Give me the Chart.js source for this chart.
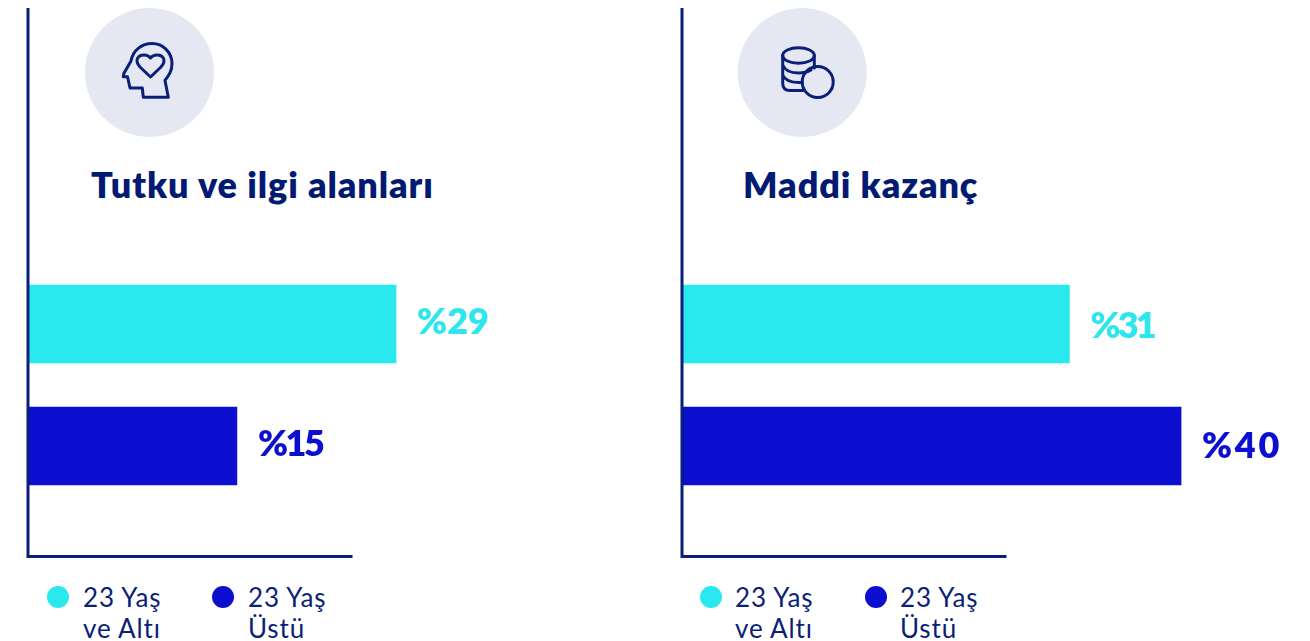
<!DOCTYPE html>
<html lang="tr"><head><meta charset="utf-8">
<script src="https://cdn.jsdelivr.net/npm/chart.js@4/dist/chart.umd.min.js"></script>
<style>
html,body{margin:0;padding:0;background:#fff;overflow:hidden}
body{width:1310px;height:641px;position:relative;font-family:Lato,sans-serif;color:#0b1f78}
canvas{position:absolute;top:0}
.title{position:absolute;top:161px;margin:0;font:800 36px/46px Lato,sans-serif;letter-spacing:.92px;color:#021a72;white-space:nowrap}
.dot{position:absolute;top:586px;width:22px;height:22px;border-radius:50%}
.lg{position:absolute;top:582px;font:400 26px/31px Lato,sans-serif;letter-spacing:.85px;color:#0b1f78;white-space:pre}
svg.ic{position:absolute;left:0;top:0}
</style></head><body>
<svg class="ic" width="1310" height="641" fill="none" stroke="#0a1f78" stroke-width="3" stroke-linejoin="round" stroke-linecap="round">
<circle cx="149.5" cy="72.5" r="64.5" fill="#e5e8f2" stroke="none"/>
<path d="M168.300 97.300H143.300L142.300 88H130L127.500 76.700H123.300L123.800 73.500L131 61C133 50 142 43.500 152 43.500C163 43.500 172 52.500 172 63.500C172 71 169 75 165 80.500Z"/>
<path d="M150.500 77L140 67C134 60 138 55 144 55C147 55 149 56 150.500 58C152 56 154 55 157 55C163 55 167 60 161 67Z"/>
<circle cx="802.200" cy="72.500" r="64.500" fill="#e5e8f2" stroke="none"/>
<ellipse cx="798.500" cy="55.500" rx="15.800" ry="7.800"/>
<path d="M782.700 55.500V83Q782.700 90.500 790 90.500H803M814.300 55.500V68M782.700 65Q786 73 798.500 73Q806 73 811 70M782.700 75Q786 82.500 798.500 82.500L802 82.500"/>
<circle cx="817.700" cy="82" r="15.500"/>
</svg>
<h2 class="title" id="t0" style="left:91px"></h2>
<h2 class="title" id="t1" style="left:743px"></h2>
<div class="dot" style="left:47px;background:#29e9ef"></div><div class="lg" id="a0" style="left:83px"></div>
<div class="dot" style="left:212px;background:#0c0fcf"></div><div class="lg" id="b0" style="left:248px"></div>
<div class="dot" style="left:700px;background:#29e9ef"></div><div class="lg" id="a1" style="left:735px"></div>
<div class="dot" style="left:865px;background:#0c0fcf"></div><div class="lg" id="b1" style="left:900px"></div>
<canvas id="c0" style="left:0" width="654" height="641"></canvas>
<canvas id="c1" style="left:654px" width="656" height="641"></canvas>
<script>
const categories = ["23 Yaş\nve Altı", "23 Yaş\nÜstü"];
const titles = ["Tutku ve ilgi alanları", "Maddi kazanç"];
const printedValues = [[29, 15], [31, 40]];
const barLengths = [[29.45, 16.7], [31, 39.95]];
const barColors = ["#29e9ef", "#0c0fcf"];
const labelColors = ["#2ee6ee", "#0c0fcf"];
const labelSpacing = [[0, -2.4], [-2.8, 2.7]];
const axisColor = "#0a1f78";

titles.forEach((t,i)=>document.getElementById("t"+i).textContent=t);
[0,1].forEach(i=>{
  document.getElementById("a"+i).textContent=categories[0];
  document.getElementById("b"+i).textContent=categories[1];
});

const frame = {
  id:"frame",
  afterDatasetsDraw(c){
    const g=c.ctx,a=c.chartArea,x=a.left-0.5;
    g.save();g.strokeStyle=axisColor;g.lineWidth=3;
    g.beginPath();g.moveTo(x,8);g.lineTo(x,556.5);g.lineTo(x+324.5,556.5);g.stroke();
    g.restore();
  }
};
const valueLabels = {
  id:"valueLabels",
  afterDatasetsDraw(c,_,o){
    const g=c.ctx,m=c.getDatasetMeta(0);
    g.save();g.textBaseline="middle";g.textAlign="left";
    g.font="800 36px Lato, sans-serif";
    m.data.forEach((b,k)=>{
      g.fillStyle=labelColors[k];
      g.letterSpacing=o.spacing[k]+"px";
      g.fillText("%"+o.printed[k],b.x+21,b.y+o.shift[k]);
    });
    g.restore();
  }
};
[0,1].forEach(i=>{
  new Chart(document.getElementById("c"+i),{
    type:"bar",
    data:{labels:categories,datasets:[{data:barLengths[i],backgroundColor:barColors,barThickness:78,borderWidth:0}]},
    plugins:[frame,valueLabels],
    options:{
      indexAxis:"y",responsive:false,animation:false,
      layout:{padding:{left:28.5,right:0,top:263,bottom:134}},
      plugins:{legend:{display:false},tooltip:{enabled:false},
        valueLabels:{printed:printedValues[i],spacing:labelSpacing[i],shift:i?[2,0]:[-2,-2]}},
      scales:{
        x:{type:"linear",min:0,max:(i?627.5:625.5)/12.48,display:false,grid:{display:false}},
        y:{display:false,grid:{display:false}}
      }
    }
  });
});
</script>
</body></html>
